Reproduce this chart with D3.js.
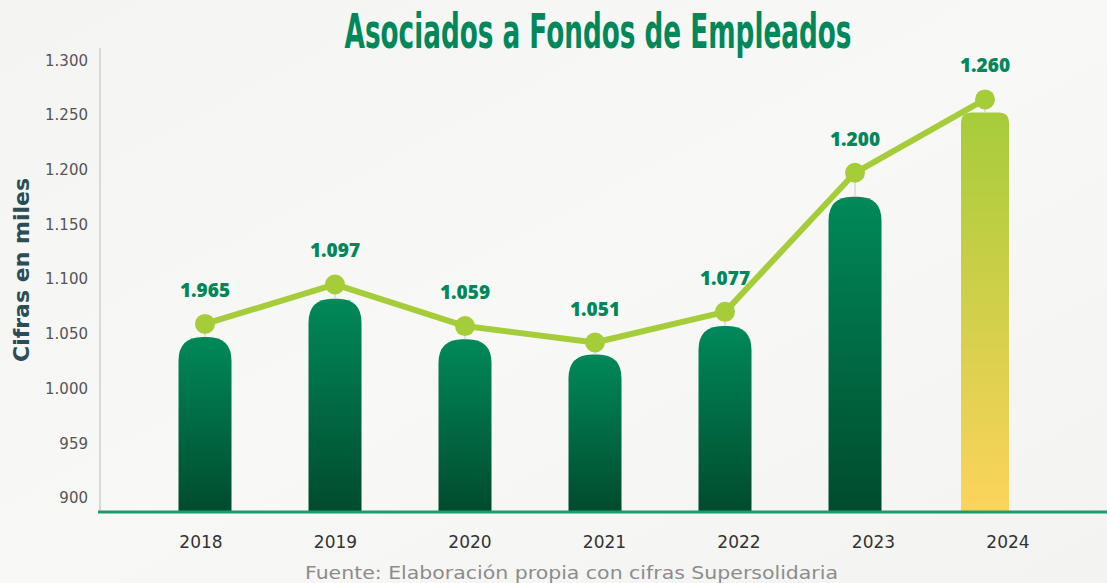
<!DOCTYPE html>
<html>
<head>
<meta charset="utf-8">
<script src="https://cdn.jsdelivr.net/npm/d3@7"></script>
<style>
  body { margin: 0; background: #f6f6f5; }
  svg { display: block; }
</style>
</head>
<body>
<div id="chart"></div>
<script>
const years = ["2018", "2019", "2020", "2021", "2022", "2023", "2024"];
const barValues = [1047, 1082, 1045, 1031, 1057, 1175, 1252];
const lineValues = [1059, 1095, 1057, 1042, 1070, 1197, 1264];
const lineLabels = ["1.965", "1.097", "1.059", "1.051", "1.077", "1.200", "1.260"];
const tickValues = [900, 950, 1000, 1050, 1100, 1150, 1200, 1250, 1300];
const tickLabels = ["900", "959", "1.000", "1.050", "1.100", "1.150", "1.200", "1.250", "1.300"];

const width = 1107;
const height = 583;
const baseY = 512;

const svg = d3.select("#chart").append("svg")
    .attr("width", width)
    .attr("height", height);

const defs = svg.append("defs");
const bg = defs.append("linearGradient").attr("id", "bg")
    .attr("x1", 0).attr("y1", 0).attr("x2", 1).attr("y2", 1);
bg.append("stop").attr("offset", "0%").attr("stop-color", "#f4f4f3");
bg.append("stop").attr("offset", "50%").attr("stop-color", "#f8f8f7");
bg.append("stop").attr("offset", "100%").attr("stop-color", "#f3f3f2");

const gGreen = defs.append("linearGradient").attr("id", "barGreen")
    .attr("x1", 0).attr("y1", 0).attr("x2", 0).attr("y2", 1);
gGreen.append("stop").attr("offset", "0%").attr("stop-color", "#00895a");
gGreen.append("stop").attr("offset", "100%").attr("stop-color", "#004b2d");

const gYellow = defs.append("linearGradient").attr("id", "barYellow")
    .attr("x1", 0).attr("y1", 0).attr("x2", 0).attr("y2", 1);
gYellow.append("stop").attr("offset", "0%").attr("stop-color", "#a6cc3a");
gYellow.append("stop").attr("offset", "100%").attr("stop-color", "#fdd45b");

svg.append("rect").attr("width", width).attr("height", height).attr("fill", "url(#bg)");

// scales
const y = d3.scaleLinear().domain([887.2, 1300]).range([baseY, 60]);
const xBar = d3.scalePoint().domain(years).range([205, 985]);
const xLab = d3.scalePoint().domain(years).range([201, 1008]);

// title - narrow font stretched vertically to look condensed
const title = svg.append("text")
    .attr("text-anchor", "middle")
    .style("font-family", "'Liberation Sans Narrow', 'DejaVu Sans Condensed', sans-serif")
    .style("font-weight", "bold")
    .style("font-size", "30px")
    .attr("fill", "#00875a")
    .text("Asociados a Fondos de Empleados");
const tw = title.node().getComputedTextLength();
const sx = 507 / tw;
const sy = 48 / 30;
title.attr("transform", `translate(598,48) scale(${sx},${sy})`);

// y axis line
svg.append("line")
    .attr("x1", 100).attr("x2", 100)
    .attr("y1", 48).attr("y2", baseY)
    .attr("stroke", "#cfcfcf").attr("stroke-width", 1.5);

// y tick labels
svg.append("g")
    .selectAll("text")
    .data(tickValues)
    .join("text")
    .attr("x", 88)
    .attr("y", d => y(d) + 5.5)
    .attr("text-anchor", "end")
    .style("font-family", "'DejaVu Sans', sans-serif")
    .style("font-size", "15px")
    .attr("fill", "#555")
    .text((d, i) => tickLabels[i]);

// y title
svg.append("text")
    .attr("transform", "translate(29,270) rotate(-90)")
    .attr("text-anchor", "middle")
    .style("font-family", "'DejaVu Sans', sans-serif")
    .style("font-weight", "bold")
    .style("font-size", "22px")
    .attr("fill", "#2b4d56")
    .text("Cifras en miles");

// bars with rounded tops
function barPath(cx, top, w, r) {
    const x0 = cx - w / 2, x1 = cx + w / 2;
    return `M${x0},${baseY} L${x0},${top + r} Q${x0},${top} ${x0 + r},${top} L${x1 - r},${top} Q${x1},${top} ${x1},${top + r} L${x1},${baseY} Z`;
}

svg.append("g")
    .selectAll("path")
    .data(years)
    .join("path")
    .attr("d", (d, i) => {
        const last = i === years.length - 1;
        const w = last ? 48 : 53;
        const r = last ? 10 : 24;
        return barPath(xBar(d), y(barValues[i]), w, r);
    })
    .attr("fill", (d, i) => i === years.length - 1 ? "url(#barYellow)" : "url(#barGreen)");

// drop lines from point to bar
svg.append("g")
    .selectAll("line")
    .data(years)
    .join("line")
    .attr("x1", d => xBar(d)).attr("x2", d => xBar(d))
    .attr("y1", (d, i) => y(lineValues[i]))
    .attr("y2", (d, i) => y(barValues[i]))
    .attr("stroke", "#c8c8c8").attr("stroke-width", 1);

// baseline
svg.append("line")
    .attr("x1", 98).attr("x2", width)
    .attr("y1", baseY).attr("y2", baseY)
    .attr("stroke", "#1f9a6c").attr("stroke-width", 3);

// line
const line = d3.line()
    .x(d => xBar(d.year))
    .y(d => y(d.value));
const pts = years.map((d, i) => ({ year: d, value: lineValues[i], label: lineLabels[i] }));

svg.append("path")
    .datum(pts)
    .attr("d", line)
    .attr("fill", "none")
    .attr("stroke", "#a5cd39")
    .attr("stroke-width", 6)
    .attr("stroke-linejoin", "round");

svg.append("g")
    .selectAll("circle")
    .data(pts)
    .join("circle")
    .attr("cx", d => xBar(d.year))
    .attr("cy", d => y(d.value))
    .attr("r", 10)
    .attr("fill", "#a5cd39");

// value labels
svg.append("g")
    .selectAll("text")
    .data(pts)
    .join("text")
    .attr("x", d => xBar(d.year))
    .attr("y", d => y(d.value) - 27)
    .attr("text-anchor", "middle")
    .style("font-family", "'Open Sans', sans-serif")
    .style("font-weight", 800)
    .style("font-size", "19px")
    .attr("fill", "#00875a")
    .text(d => d.label);

// x labels
svg.append("g")
    .selectAll("text")
    .data(years)
    .join("text")
    .attr("x", d => xLab(d))
    .attr("y", 548)
    .attr("text-anchor", "middle")
    .style("font-family", "'DejaVu Sans', sans-serif")
    .style("font-size", "17px")
    .attr("fill", "#333")
    .text(d => d);

// source
svg.append("text")
    .attr("x", 305)
    .attr("y", 579)
    .attr("textLength", 533)
    .attr("lengthAdjust", "spacingAndGlyphs")
    .style("font-family", "'DejaVu Sans', sans-serif")
    .style("font-size", "17px")
    .attr("fill", "#8c8c8c")
    .text("Fuente: Elaboración propia con cifras Supersolidaria");
</script>
</body>
</html>
